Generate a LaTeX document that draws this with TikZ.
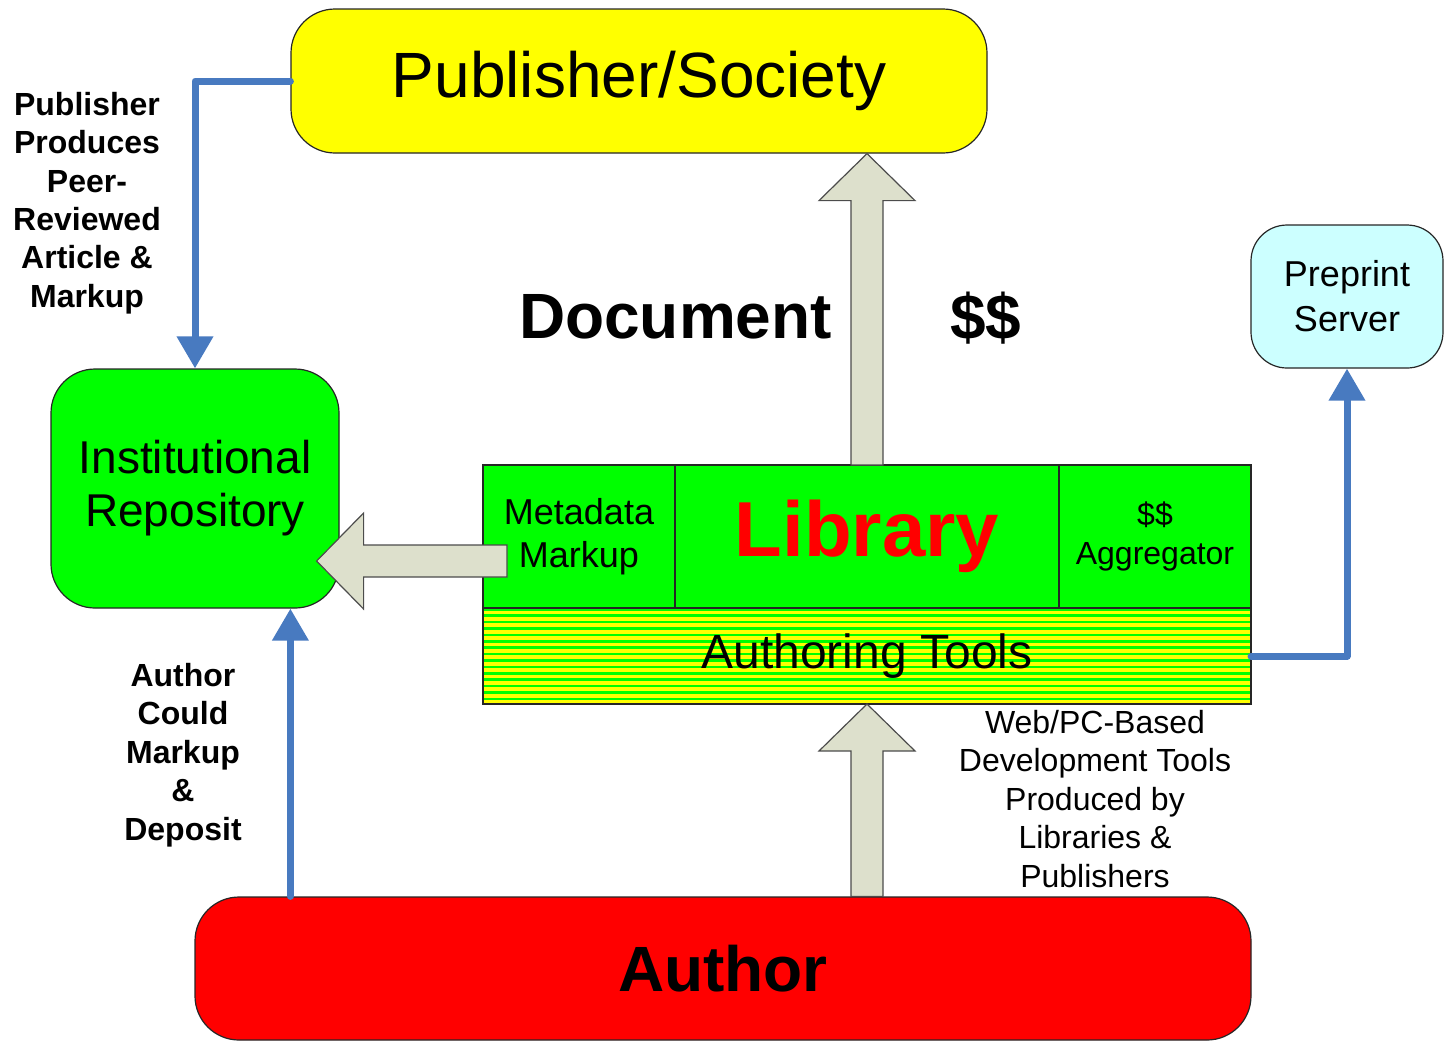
\documentclass[tikz,border=0pt]{standalone}
\usepackage{fontspec}
\setmainfont{Liberation Sans}
\usetikzlibrary{arrows.meta,calc,positioning}
\definecolor{pubyellow}{RGB}{255,255,0}
\definecolor{boxgreen}{RGB}{0,255,0}
\definecolor{authred}{RGB}{255,0,0}
\definecolor{precyan}{RGB}{204,255,255}
\definecolor{flowblue}{RGB}{72,122,192}
\definecolor{blockgray}{RGB}{221,224,204}
\tikzstyle{roundbox} = [rectangle, rounded corners=22pt, draw=black!85, line width=0.6pt, align=center, inner sep=0pt]
\tikzstyle{cell}     = [rectangle, draw=black!85, line width=0.6pt, fill=boxgreen, align=center, minimum height=71.5pt, inner sep=0pt, outer sep=0pt]
\tikzstyle{tools}    = [rectangle, draw=black!85, line width=0.6pt, fill=boxgreen, minimum width=384pt, minimum height=48pt, inner sep=0pt, outer sep=0pt,
                        font=\fontsize{24}{28}\selectfont,
                        path picture={\foreach \k in {0,...,14} \fill[pubyellow] ($(path picture bounding box.north west)+(0,-1.3pt-\k*3.2pt)$) rectangle ++(384pt,-1.9pt);}]
\tikzstyle{bignote}  = [inner sep=0pt, font=\fontsize{32}{38}\selectfont\bfseries]
\tikzstyle{note}     = [align=center, inner sep=0pt, font=\fontsize{16}{19.2}\selectfont\bfseries]
\tikzstyle{plainnote}= [align=center, inner sep=0pt, font=\fontsize{16}{19.25}\selectfont]
\tikzstyle{flow}     = [flowblue, line width=3.5pt, line cap=round, line join=round, -{Triangle[width=17.5pt,length=16pt]}]
\tikzstyle{block}    = [fill=blockgray, draw=black!70, line width=0.6pt, line join=miter]
% block arrow from #1 to #2
\newcommand{\blockarrow}[2]{%
  \coordinate (bh) at ($(#2)!23.5pt!(#1)$);
  \draw[block] ($(#1)!8pt!90:(#2)$) -- ($(bh)!8pt!90:(#2)$) -- ($(bh)!24pt!90:(#2)$) -- (#2)
    -- ($(bh)!24pt!-90:(#2)$) -- ($(bh)!8pt!-90:(#2)$) -- ($(#1)!8pt!-90:(#2)$) -- cycle;}

\begin{document}
\begin{tikzpicture}[x=0.5pt, y=-0.5pt]
      \useasboundingbox (0,0) rectangle (1447,1041);
      % boxes
      \node[roundbox, fill=pubyellow, minimum width=348pt, minimum height=72pt, font=\fontsize{32}{38}\selectfont] (pub) at (639,81) {Publisher/Society};
      \node[roundbox, fill=boxgreen, minimum width=144pt, minimum height=119.5pt, font=\fontsize{23}{26.5}\selectfont] (repo) at (195,488.5) {Institutional\\Repository};
      \node[roundbox, fill=precyan, rounded corners=18pt, minimum width=96pt, minimum height=71.5pt, font=\fontsize{18}{22.5}\selectfont] (pre) at (1347,296.5) {Preprint\\Server};
      \node[roundbox, fill=authred, minimum width=528pt, minimum height=71.5pt, font=\fontsize{32}{38}\selectfont\bfseries] (author) at (723,968.5) {Author};
      % library block
      \node[cell, minimum width=96pt, font=\fontsize{18}{21.5}\selectfont] (meta) at (579,536.5) {Metadata\\Markup};
      \node[cell, minimum width=192pt, right=0pt of meta, text=authred, font=\fontsize{39}{44}\selectfont\bfseries] (lib) {Library};
      \node[cell, minimum width=96pt, right=0pt of lib, font=\fontsize{16}{19.5}\selectfont] (agg) {\$\$\\Aggregator};
      \node[tools, below=0pt of lib] (tool) {Authoring Tools};
      % labels
      \node[bignote] (doc) at (675.5,317) {Document};
      \node[bignote] (cash) at (986,318) {\$\$};
      \node[note] (pubnote) at (87,203) {Publisher\\Produces\\Peer-\\Reviewed\\Article \&\\Markup};
      \node[note] (authnote) at (183,755) {Author\\Could\\Markup\\\&\\Deposit};
      \node[plainnote] (toolnote) at (1095,799) {Web/PC-Based\\Development Tools\\Produced by\\Libraries \&\\Publishers};
      % block arrows
      \coordinate (pubfoot) at (lib.north |- pub.south);
      \coordinate (authtop) at (author.north -| lib.north);
      \coordinate (metain) at ($(meta.west)+(12pt,-12.25pt)$);
      \coordinate (repoin) at ($(metain -| repo.east)+(-11.5pt,0)$);
      \blockarrow{lib.north}{pubfoot}
      \blockarrow{authtop}{tool.south}
      \blockarrow{metain}{repoin}
      % blue flows
      \coordinate (authfoot) at ($(author.north west)+(48pt,0)$);
      \draw[flow] (pub.west) -| (repo.north);
      \draw[flow] (authfoot) -- (authfoot |- repo.south);
      \draw[flow] (tool.east) -| (pre.south);
\end{tikzpicture}
\end{document}
